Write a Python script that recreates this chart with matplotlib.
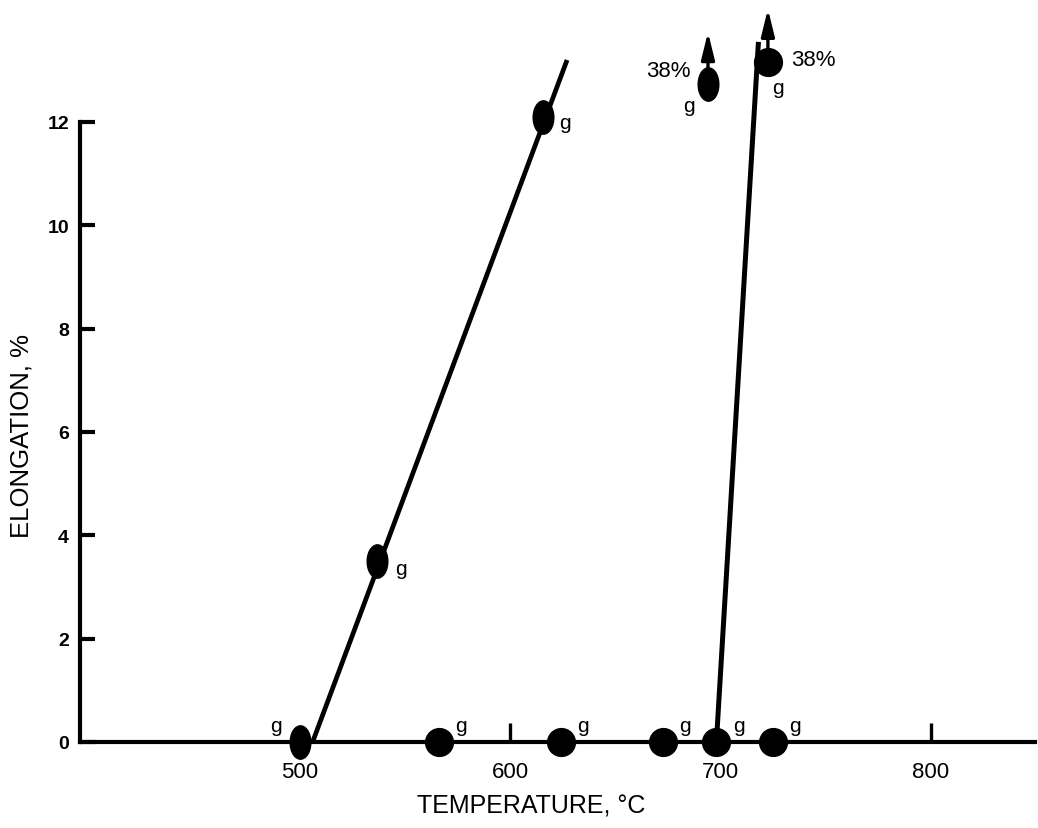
import matplotlib
matplotlib.use("Agg")
import matplotlib.pyplot as plt
from matplotlib.path import Path
from matplotlib.transforms import Affine2D

# ---- data ------------------------------------------------------------------
# measured points (temperature in deg C, elongation in %)
round_temp = [566, 624, 672.6, 698, 725, 722.5]
round_elong = [0, 0, 0, 0, 0, 13.16]
oval_temp = [500, 536.6, 615.5, 694]
oval_elong = [0, 3.5, 12.1, 12.73]

# the two trend lines
line1_temp = [506, 627]
line1_elong = [0, 13.2]
line2_temp = [698, 718]
line2_elong = [0, 13.55]

# off-scale points (38 %) marked with arrows
arrow_temp = [694, 722.5]
arrow_base = [12.99, 13.37]
arrow_tip = [13.74, 14.19]

x_ticks = [500, 600, 700, 800]
y_ticks = [0, 2, 4, 6, 8, 10, 12]

FONT = ["Liberation Sans", "DejaVu Sans"]
plt.rcParams["font.family"] = FONT

fig = plt.figure(figsize=(10.38, 8.29), dpi=100)
ax = fig.add_axes([80 / 1038, 86 / 829, (1035 - 80) / 1038, 743 / 829])
ax.set_xlim(395.4, 849.5)
ax.set_ylim(0, 14.38)

for s in ("top", "right"):
    ax.spines[s].set_visible(False)
ax.spines["left"].set_bounds(0, 12)
ax.spines["left"].set_linewidth(3.0)
ax.spines["bottom"].set_linewidth(3.0)

ax.plot(line1_temp, line1_elong, color="k", lw=3.4, solid_capstyle="butt")
ax.plot(line2_temp, line2_elong, color="k", lw=3.6, solid_capstyle="butt")

oval = Path.unit_circle().transformed(Affine2D().scale(0.62, 1.0))
ax.plot(round_temp, round_elong, "o", color="k", ms=20, clip_on=False)
ax.plot(oval_temp, oval_elong, marker=oval, ls="none", color="k", ms=24,
        clip_on=False)

for t, b, tip in zip(arrow_temp, arrow_base, arrow_tip):
    ax.annotate("", xy=(t, tip), xytext=(t, b),
                arrowprops=dict(arrowstyle="-|>,head_width=0.22,head_length=0.9",
                                lw=2.4, color="k", mutation_scale=18,
                                shrinkA=0, shrinkB=0))

# "g" labels beside each point
g_kw = dict(textcoords="offset points", fontsize=15, ha="center", va="center")
for t in round_temp[:5]:
    ax.annotate("g", (t, 0), xytext=(16, 12), **g_kw)
ax.annotate("g", (oval_temp[0], 0), xytext=(-17, 12), **g_kw)
ax.annotate("g", (oval_temp[1], oval_elong[1]), xytext=(17, -5), **g_kw)
ax.annotate("g", (oval_temp[2], oval_elong[2]), xytext=(16, -4), **g_kw)
ax.annotate("g", (oval_temp[3], oval_elong[3]), xytext=(-14, -15), **g_kw)
ax.annotate("g", (round_temp[5], round_elong[5]), xytext=(7, -18), **g_kw)

ax.text(675, 12.99, "38%", fontsize=16, ha="center", va="center")
ax.text(744, 13.2, "38%", fontsize=16, ha="center", va="center")

ax.set_xticks(x_ticks)
ax.set_yticks(y_ticks)
ax.tick_params(axis="x", direction="in", length=14, width=2.4, pad=14,
               labelsize=16)
ax.tick_params(axis="y", direction="in", length=11, width=3.0, pad=8,
               labelsize=14)
# tick marks at 500 and 700 are hidden under the markers in the original
for i in (0, 2):
    ax.xaxis.get_major_ticks()[i].tick1line.set_visible(False)
for lab in ax.get_yticklabels():
    lab.set_fontweight("bold")

fig.text(531 / 1038, 1 - 807 / 829, "TEMPERATURE, \u00b0C", fontsize=18,
         ha="center", va="center")
fig.text(22 / 1038, 1 - 436 / 829, "ELONGATION, %", fontsize=18.5,
         ha="center", va="center", rotation=90)

fig.savefig("out.png", dpi=100)
